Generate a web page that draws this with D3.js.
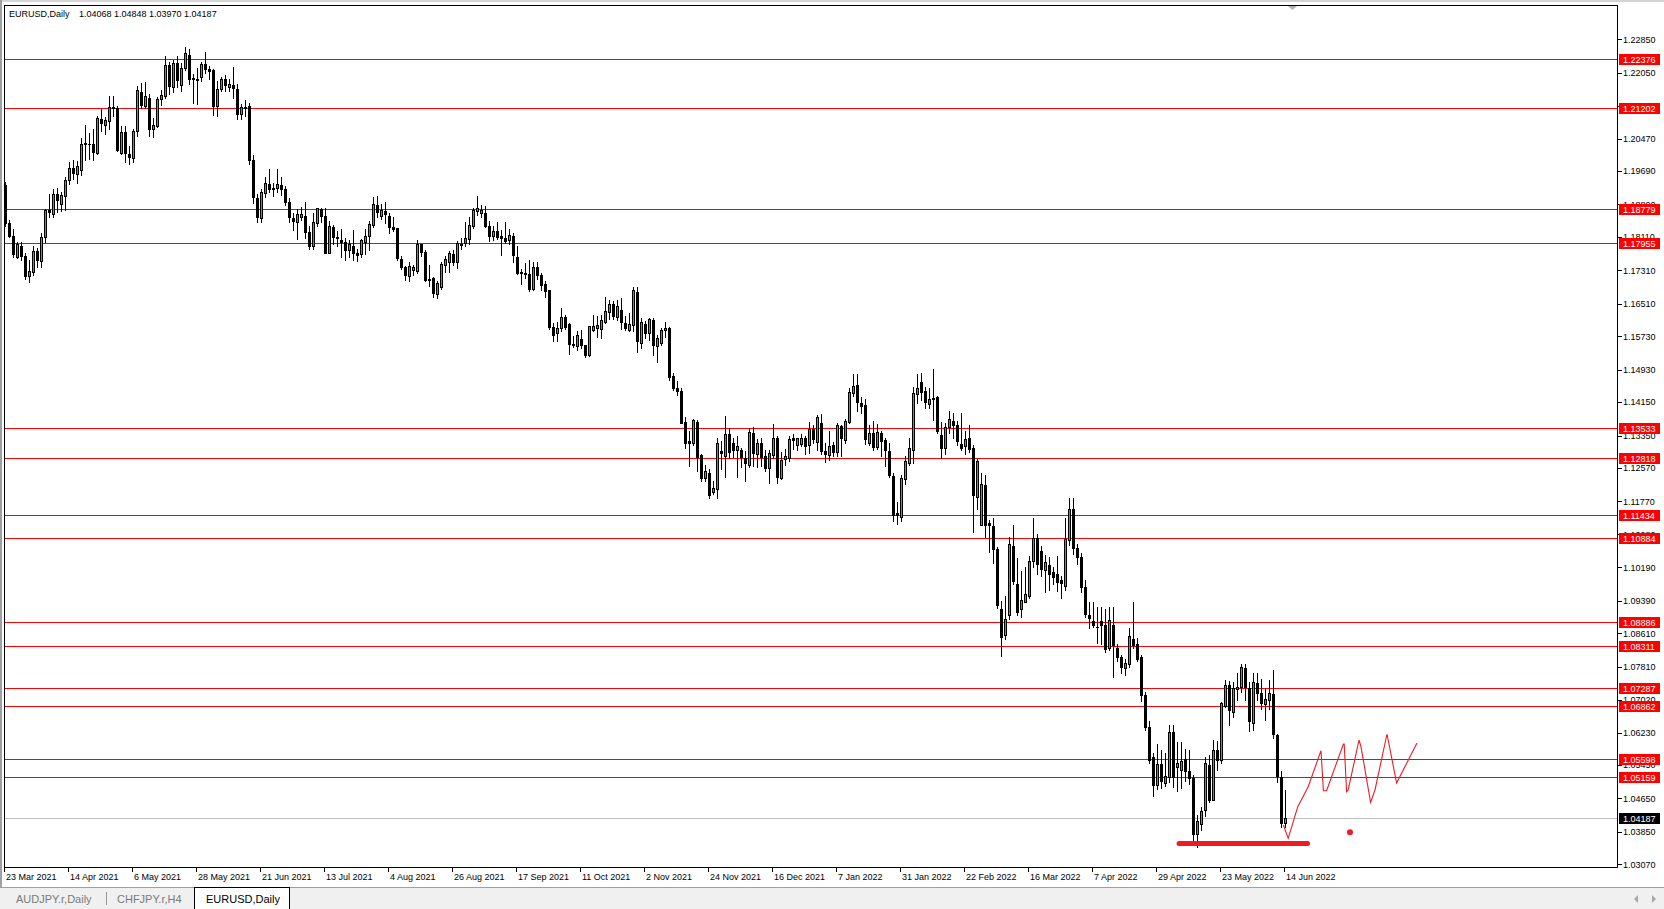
<!DOCTYPE html>
<html><head><meta charset="utf-8">
<script src="https://cdn.jsdelivr.net/npm/d3@7"></script>
<style>
html,body{margin:0;padding:0;background:#fff;overflow:hidden;}
svg{display:block;}
text{font-family:"Liberation Sans",Arial,sans-serif;}
</style></head><body>
<svg id="c" width="1664" height="909"></svg>
<script>
// ---------- data ----------
const symbolTitle = "EURUSD,Daily";
const headerValues = "1.04068 1.04848 1.03970 1.04187";
const dateLabels = ["23 Mar 2021","14 Apr 2021","6 May 2021","28 May 2021","21 Jun 2021","13 Jul 2021","4 Aug 2021","26 Aug 2021","17 Sep 2021","11 Oct 2021","2 Nov 2021","24 Nov 2021","16 Dec 2021","7 Jan 2022","31 Jan 2022","22 Feb 2022","16 Mar 2022","7 Apr 2022","29 Apr 2022","23 May 2022","14 Jun 2022"];
const barsPerLabel = 16;
const priceTicks = [1.22850,1.22050,1.21260,1.20470,1.19690,1.18890,1.18110,1.17310,1.16510,1.15730,1.14930,1.14150,1.13350,1.12570,1.11770,1.10980,1.10190,1.09390,1.08610,1.07810,1.07020,1.06230,1.05450,1.04650,1.03850,1.03070];
const levels = [1.22376,1.21202,1.18779,1.17955,1.13533,1.12818,1.11434,1.10884,1.08886,1.08311,1.07287,1.06862,1.05598,1.05159];
const bidPrice = 1.04187;
const tabs = ["AUDJPY.r,Daily","CHFJPY.r,H4","EURUSD,Daily"];

const open = [1.1935,1.1845,1.1813,1.1763,1.1790,1.1765,1.1718,1.1728,1.1778,1.1754,1.1811,1.1875,1.1866,1.1913,1.1889,1.1910,1.1947,1.1977,1.1963,1.1971,1.2035,1.2035,1.2033,1.2013,1.2093,1.2080,1.2088,1.2123,1.2120,1.2013,1.2062,1.2010,1.2001,1.2064,1.2159,1.2126,1.2145,1.2070,1.2078,1.2141,1.2149,1.2223,1.2170,1.2227,1.2175,1.2215,1.2247,1.2193,1.2190,1.2195,1.2225,1.2213,1.2211,1.2125,
1.2165,1.2189,1.2170,1.2175,1.2165,1.2105,1.2122,1.2125,1.1996,1.1905,1.1856,1.1916,1.1937,1.1925,1.1928,1.1935,1.1925,1.1894,1.1856,1.1848,1.1860,1.1862,1.1822,1.1789,1.1845,1.1878,1.1862,1.1773,1.1835,1.1811,1.1805,1.1799,1.1780,1.1790,1.1772,1.1770,1.1800,1.1813,1.1840,1.1888,1.1862,1.1873,1.1862,1.1835,1.1832,1.1758,1.1738,1.1718,1.1732,1.1729,1.1795,1.1776,1.1711,1.1712,
1.1674,1.1690,1.1744,1.1752,1.1770,1.1750,1.1795,1.1796,1.1806,1.1838,1.1874,1.1868,1.1868,1.1838,1.1813,1.1825,1.1813,1.1808,1.1803,1.1814,1.1762,1.1727,1.1725,1.1722,1.1686,1.1738,1.1720,1.1698,1.1683,1.1596,1.1580,1.1592,1.1620,1.1602,1.1554,1.1550,1.1566,1.1552,1.1528,1.1588,1.1592,1.1590,1.1608,1.1630,1.1650,1.1620,1.1635,1.1605,1.1588,1.1600,1.1680,1.1557,1.1603,1.1580,
1.1612,1.1550,1.1556,1.1587,1.1594,1.1478,1.1448,1.1442,1.1368,1.1322,1.1318,1.1368,1.1288,1.1232,1.1245,1.1200,1.1206,1.1298,1.1286,1.1338,1.1318,1.1300,1.1300,1.1280,1.1264,1.1342,1.1290,1.1316,1.1286,1.1258,1.1288,1.1328,1.1234,1.1278,1.1281,1.1330,1.1312,1.1314,1.1330,1.1312,1.1350,1.1320,1.1365,1.1298,1.1289,1.1312,1.1296,1.1358,1.1325,1.1368,1.1438,1.1455,1.1412,
1.1408,1.1318,1.1340,1.1308,1.1340,1.1324,1.1298,1.1238,1.1149,1.1140,1.1230,1.1270,1.1300,1.1434,1.1464,1.1442,1.1411,1.1426,1.1427,1.1336,1.1305,1.1356,1.1370,1.1360,1.1314,1.1310,1.1328,1.1306,1.1188,1.1120,1.1216,1.1126,1.1118,1.1062,1.0920,1.0856,1.0904,1.1070,1.0978,1.0920,1.0936,1.0950,1.1034,1.1090,1.1058,1.1012,1.1024,1.1008,1.1004,1.0988,1.0974,1.1084,1.1158,1.1066,
1.1044,1.0971,1.0905,1.0890,1.0877,1.0890,1.0880,1.0825,1.0880,1.0826,1.0805,1.0778,1.0787,1.0847,1.0835,1.0803,1.0713,1.0637,1.0565,1.0497,1.0547,1.0502,1.0517,1.0624,1.0540,1.0533,1.0560,1.0530,1.0514,1.0380,1.0404,1.0436,1.0545,1.0460,1.0582,1.0558,1.0686,1.0736,1.0672,1.0727,1.0731,1.0777,1.0730,1.0645,1.0742,1.0717,1.0692,1.0700,1.0716,1.0617,1.0517,1.04068];
const high = [1.1942,1.1852,1.1830,1.1800,1.1800,1.1772,1.1755,1.1790,1.1785,1.1820,1.1877,1.1914,1.1927,1.1928,1.1920,1.1955,1.1990,1.1995,1.1994,1.2048,1.2079,1.2060,1.2070,1.2101,1.2117,1.2098,1.2150,1.2150,1.2125,1.2077,1.2077,1.2030,1.2071,1.2173,1.2181,1.2183,1.2154,1.2097,1.2147,1.2163,1.2245,1.2230,1.2235,1.2244,1.2227,1.2266,1.2262,1.2203,1.2215,1.2230,1.2254,1.2220,1.2213,1.2185,
1.2195,1.2200,1.2190,1.2218,1.2177,1.2130,1.2140,1.2132,1.2008,1.1915,1.1925,1.1955,1.1974,1.1940,1.1975,1.1955,1.1933,1.1905,1.1868,1.1877,1.1882,1.1895,1.1838,1.1868,1.1880,1.1880,1.1880,1.1849,1.1840,1.1826,1.1829,1.1808,1.1804,1.1828,1.1782,1.1806,1.1830,1.1850,1.1908,1.1909,1.1890,1.1895,1.1868,1.1860,1.1832,1.1765,1.1742,1.1750,1.1745,1.1805,1.1795,1.1780,1.1745,1.1715,
1.1705,1.1750,1.1765,1.1777,1.1780,1.1802,1.1808,1.1846,1.1858,1.1880,1.1909,1.1888,1.1886,1.1850,1.1838,1.1848,1.1828,1.1846,1.1830,1.1820,1.1790,1.1735,1.1748,1.1755,1.1750,1.1752,1.1724,1.1705,1.1685,1.1605,1.1607,1.1640,1.1625,1.1605,1.1573,1.1585,1.1588,1.1553,1.1598,1.1625,1.1622,1.1625,1.1668,1.1660,1.1658,1.1660,1.1664,1.1622,1.1628,1.1692,1.1690,1.1616,1.1610,1.1617,
1.1616,1.1575,1.1592,1.1608,1.1596,1.1485,1.1465,1.1448,1.1380,1.1345,1.1374,1.1372,1.1290,1.1265,1.1254,1.1226,1.1328,1.1323,1.1383,1.1353,1.1330,1.1335,1.1305,1.1297,1.1352,1.1355,1.1326,1.1328,1.1300,1.1300,1.1362,1.1335,1.1296,1.1302,1.1334,1.1338,1.1330,1.1338,1.1335,1.1368,1.1360,1.1385,1.1386,1.1318,1.1347,1.1320,1.1364,1.1360,1.1375,1.1448,1.1483,1.1482,1.1428,
1.1422,1.1360,1.1370,1.1362,1.1345,1.1330,1.1318,1.1245,1.1175,1.1240,1.1285,1.1330,1.1451,1.1483,1.1484,1.1452,1.1450,1.1494,1.1430,1.1367,1.1365,1.1395,1.1390,1.1370,1.1390,1.1345,1.1360,1.1312,1.1278,1.1244,1.1240,1.1132,1.1137,1.1068,1.0939,1.0950,1.1092,1.1120,1.1042,1.1010,1.1020,1.1045,1.1137,1.1100,1.1070,1.1048,1.1044,1.1020,1.1045,1.0998,1.1137,1.1185,1.1185,1.1076,
1.1054,1.0988,1.0936,1.0937,1.0925,1.0923,1.0920,1.0925,1.0925,1.0835,1.0810,1.0800,1.0873,1.0936,1.0850,1.0810,1.0720,1.0650,1.0575,1.0595,1.0580,1.0575,1.0642,1.0641,1.0600,1.0600,1.0583,1.0580,1.0520,1.0425,1.0445,1.0564,1.0570,1.0606,1.0602,1.0697,1.0748,1.0746,1.0743,1.0765,1.0787,1.0787,1.0745,1.0766,1.0765,1.0752,1.0727,1.0748,1.0774,1.0620,1.0530,1.04848];
const low = [1.1838,1.1810,1.1762,1.1760,1.1755,1.1710,1.1704,1.1720,1.1740,1.1738,1.1800,1.1858,1.1860,1.1870,1.1873,1.1875,1.1937,1.1950,1.1940,1.1960,1.1995,1.1997,1.1995,1.2010,1.2065,1.2058,1.2070,1.2100,1.2017,1.2010,1.1990,1.1986,1.1990,1.2052,1.2120,1.2120,1.2052,1.2050,1.2075,1.2128,1.2145,1.2155,1.2158,1.2170,1.2162,1.2212,1.2178,1.2133,1.2131,1.2185,1.2205,1.2190,1.2104,1.2100,
1.2160,1.2160,1.2160,1.2144,1.2093,1.2093,1.2100,1.1985,1.1892,1.1846,1.1848,1.1907,1.1920,1.1910,1.1920,1.1912,1.1887,1.1846,1.1828,1.1807,1.1852,1.1808,1.1782,1.1782,1.1837,1.1846,1.1772,1.1772,1.1795,1.1790,1.1762,1.1755,1.1763,1.1757,1.1753,1.1763,1.1770,1.1780,1.1836,1.1860,1.1855,1.1845,1.1820,1.1825,1.1755,1.1734,1.1707,1.1705,1.1720,1.1725,1.1765,1.1705,1.1694,1.1666,
1.1664,1.1686,1.1728,1.1726,1.1745,1.1737,1.1782,1.1790,1.1795,1.1833,1.1864,1.1858,1.1835,1.1802,1.1805,1.1806,1.1768,1.1796,1.1795,1.1750,1.1722,1.1698,1.1712,1.1682,1.1683,1.1710,1.1685,1.1668,1.1590,1.1562,1.1562,1.1586,1.1590,1.1530,1.1548,1.1540,1.1545,1.1524,1.1525,1.1585,1.1571,1.1570,1.1605,1.1615,1.1615,1.1612,1.1590,1.1588,1.1585,1.1585,1.1535,1.1545,1.1570,1.1563,
1.1528,1.1512,1.1552,1.1572,1.1468,1.1444,1.1432,1.1365,1.1305,1.1262,1.1313,1.1250,1.1227,1.1226,1.1186,1.1195,1.1186,1.1255,1.1235,1.1281,1.1283,1.1236,1.1260,1.1227,1.1260,1.1262,1.1260,1.1262,1.1250,1.1222,1.1282,1.1221,1.1230,1.1264,1.1274,1.1302,1.1300,1.1310,1.1290,1.1292,1.1318,1.1300,1.1290,1.1272,1.1276,1.1285,1.1286,1.1285,1.1318,1.1365,1.1430,1.1395,1.1390,
1.1315,1.1312,1.1300,1.1302,1.1287,1.1263,1.1235,1.1130,1.1122,1.1130,1.1218,1.1265,1.1268,1.1412,1.1420,1.1400,1.1400,1.1372,1.1340,1.1280,1.1290,1.1340,1.1330,1.1312,1.1300,1.1290,1.1295,1.1104,1.1160,1.1120,1.1092,1.1056,1.1030,1.0922,1.0806,1.0848,1.0895,1.0980,1.0905,1.0900,1.0936,1.0945,1.1020,1.1003,1.0998,1.0960,1.0964,1.0980,1.0963,1.0945,1.0964,1.1072,1.1050,1.1028,
1.0961,1.0900,1.0873,1.0877,1.0837,1.0835,1.0815,1.0820,1.0757,1.0795,1.0765,1.0760,1.0780,1.0825,1.0795,1.0698,1.0630,1.0550,1.0470,1.0488,1.0490,1.0494,1.0505,1.0493,1.0483,1.0490,1.0506,1.0500,1.0354,1.0348,1.0389,1.0422,1.0457,1.0460,1.0532,1.0550,1.0685,1.0642,1.0661,1.0700,1.0719,1.0700,1.0627,1.0628,1.0700,1.0680,1.0653,1.0680,1.0610,1.0505,1.0397,1.03970];
const close = [1.1845,1.1813,1.1770,1.1794,1.1765,1.1718,1.1730,1.1778,1.1756,1.1811,1.1875,1.1870,1.1915,1.1900,1.1911,1.1948,1.1977,1.1965,1.1981,1.2035,1.2036,1.2033,1.2014,1.2097,1.2085,1.2091,1.2123,1.2120,1.2019,1.2062,1.2012,1.2003,1.2064,1.2163,1.2127,1.2149,1.2071,1.2080,1.2143,1.2151,1.2223,1.2173,1.2227,1.2187,1.2215,1.2251,1.2191,1.2190,1.2188,1.2225,1.2213,1.2210,1.2125,1.2165,
1.2189,1.2175,1.2178,1.2168,1.2105,1.2123,1.2120,1.1996,1.1906,1.1860,1.1920,1.1940,1.1926,1.1929,1.1938,1.1925,1.1894,1.1858,1.1849,1.1866,1.1866,1.1822,1.1790,1.1848,1.1880,1.1862,1.1772,1.1837,1.1812,1.1808,1.1800,1.1780,1.1794,1.1772,1.1767,1.1804,1.1813,1.1842,1.1889,1.1872,1.1875,1.1865,1.1835,1.1830,1.1760,1.1738,1.1719,1.1741,1.1738,1.1795,1.1776,1.1708,1.1707,1.1676,
1.1700,1.1746,1.1758,1.1773,1.1752,1.1796,1.1793,1.1808,1.1840,1.1876,1.1880,1.1876,1.1838,1.1814,1.1826,1.1811,1.1808,1.1802,1.1815,1.1768,1.1725,1.1725,1.1722,1.1686,1.1738,1.1720,1.1695,1.1682,1.1596,1.1576,1.1594,1.1620,1.1596,1.1554,1.1553,1.1576,1.1552,1.1528,1.1597,1.1598,1.1600,1.1612,1.1634,1.1650,1.1622,1.1645,1.1608,1.1592,1.1602,1.1684,1.1562,1.1608,1.1580,1.1614,
1.1552,1.1568,1.1588,1.1594,1.1476,1.1448,1.1442,1.1366,1.1318,1.1318,1.1372,1.1284,1.1232,1.1250,1.1192,1.1209,1.1316,1.1292,1.1338,1.1296,1.1300,1.1310,1.1284,1.1268,1.1344,1.1292,1.1318,1.1284,1.1258,1.1294,1.1330,1.1236,1.1276,1.1287,1.1326,1.1324,1.1330,1.1330,1.1310,1.1350,1.1327,1.1380,1.1298,1.1290,1.1310,1.1296,1.1360,1.1330,1.1370,1.1440,1.1454,1.1415,1.1405,
1.1326,1.1342,1.1308,1.1344,1.1322,1.1300,1.1240,1.1144,1.1144,1.1232,1.1274,1.1304,1.1438,1.1450,1.1440,1.1416,1.1422,1.1422,1.1347,1.1306,1.1356,1.1374,1.1360,1.1323,1.1306,1.1326,1.1302,1.1192,1.1274,1.1218,1.1120,1.1120,1.1064,1.0928,1.0852,1.0896,1.1076,1.0986,1.0912,1.0940,1.0954,1.1034,1.1090,1.1026,1.1014,1.1032,1.1004,1.0996,1.0984,1.0982,1.1086,1.1158,1.1066,1.1044,
1.0971,1.0907,1.0897,1.0881,1.0875,1.0880,1.0822,1.0893,1.0833,1.0805,1.0781,1.0790,1.0854,1.0833,1.0800,1.0713,1.0637,1.0558,1.0497,1.0547,1.0507,1.0518,1.0624,1.0517,1.0550,1.0555,1.0530,1.0514,1.0380,1.0410,1.0434,1.0550,1.0460,1.0582,1.0558,1.0693,1.0736,1.0678,1.0730,1.0732,1.0780,1.0733,1.0651,1.0745,1.0717,1.0694,1.0704,1.0718,1.0620,1.0518,1.0405,1.04187];

// hand-drawn annotation (bar index, price)
const zigzag = [[319.6,1.04012],[320.8,1.03693],[323.2,1.04451],[325.8,1.04931],[329.0,1.05794],[329.6,1.04835],[330.4,1.04835],[334.6,1.05954],[334.8,1.05954],[335.4,1.04811],[335.8,1.04852],[338.5,1.06050],[339.0,1.05889],[341.4,1.04556],[342.5,1.04852],[345.5,1.06194],[347.9,1.05019],[353.0,1.05978]];
const supportSegment = {from:292.9, to:326.25, price:1.0357};
const dotMark = {bar:336.25, price:1.03837};

// ---------- drawing ----------
const svg = d3.select("#c");
const W = 1664, H = 909;
const plotL = 4, plotR = 1617, plotT = 5, plotB = 867;

const x = d3.scaleLinear().domain([0, 320]).range([5, 1285]);
const y = d3.scaleLinear().domain([1.0307, 1.2285]).range([864.3, 39.3]);

svg.append("rect").attr("width", W).attr("height", H).attr("fill", "#fff");
// window edges
svg.append("rect").attr("x",0).attr("y",0).attr("width",W).attr("height",2).attr("fill","#d4d4d4");
svg.append("rect").attr("x",0).attr("y",0).attr("width",2).attr("height",888).attr("fill","#a0a0a0");

const root = svg.append("g").attr("shape-rendering","crispEdges");

// horizontal levels
root.selectAll("line.lvl").data(levels).join("line")
  .attr("x1", plotL).attr("x2", plotR)
  .attr("y1", d => Math.round(y(d)) + 0.5).attr("y2", d => Math.round(y(d)) + 0.5)
  .attr("stroke", "#ff0000").attr("stroke-width", 1);

// bid line
root.append("line").attr("x1", plotL).attr("x2", plotR)
  .attr("y1", Math.round(y(bidPrice)) + 0.5).attr("y2", Math.round(y(bidPrice)) + 0.5)
  .attr("stroke", "#c0c0c0");

// candles
const idx = d3.range(open.length);
const cg = root.append("g");
cg.selectAll("rect.wick").data(idx).join("rect")
  .attr("x", i => Math.round(x(i)))
  .attr("y", i => Math.round(y(high[i])))
  .attr("width", 1)
  .attr("height", i => Math.max(1, Math.round(y(low[i])) - Math.round(y(high[i])) + 1))
  .attr("fill", "#000");
cg.selectAll("rect.body").data(idx).join("rect")
  .attr("x", i => Math.round(x(i)) - 1)
  .attr("y", i => Math.round(y(Math.max(open[i], close[i]))))
  .attr("width", 3)
  .attr("height", i => Math.max(1, Math.round(y(Math.min(open[i], close[i]))) - Math.round(y(Math.max(open[i], close[i]))) + 1))
  .attr("fill", "#000");
cg.selectAll("rect.bull").data(idx.filter(i => close[i] > open[i])).join("rect")
  .attr("x", i => Math.round(x(i)))
  .attr("y", i => Math.round(y(close[i])) + 1)
  .attr("width", 1)
  .attr("height", i => Math.max(0, Math.round(y(open[i])) - Math.round(y(close[i])) - 1))
  .attr("fill", "#3cb43c");

// frame
root.append("rect").attr("x", plotL + 0.5).attr("y", plotT + 0.5)
  .attr("width", plotR - plotL).attr("height", plotB - plotT)
  .attr("fill", "none").attr("stroke", "#000");

// chart shift marker
svg.append("path").attr("d", "M1288,6 L1297,6 L1292.5,10 Z").attr("fill", "#b0b0b0");

// price axis ticks
const yt = svg.append("g");
yt.selectAll("line").data(priceTicks).join("line")
  .attr("x1", plotR + 1).attr("x2", plotR + 5)
  .attr("y1", d => Math.round(y(d)) + 0.5).attr("y2", d => Math.round(y(d)) + 0.5)
  .attr("stroke", "#000").attr("shape-rendering","crispEdges");
yt.selectAll("text").data(priceTicks).join("text")
  .attr("x", 1623).attr("y", d => y(d) + 3.3)
  .attr("font-size", 9).attr("fill", "#000")
  .text(d => d.toFixed(5));

// level price boxes
const lb = svg.append("g");
lb.selectAll("rect").data(levels).join("rect")
  .attr("x", 1619).attr("y", d => Math.round(y(d)) - 5)
  .attr("width", 41).attr("height", 11).attr("fill", "#ff0000").attr("shape-rendering","crispEdges");
lb.selectAll("text").data(levels).join("text")
  .attr("x", 1623).attr("y", d => Math.round(y(d)) + 3.8)
  .attr("font-size", 9).attr("fill", "#fff")
  .text(d => d.toFixed(5));
// bid box
svg.append("rect").attr("x", 1619).attr("y", Math.round(y(bidPrice)) - 5)
  .attr("width", 41).attr("height", 11).attr("fill", "#000");
svg.append("text").attr("x", 1623).attr("y", Math.round(y(bidPrice)) + 3.8)
  .attr("font-size", 9).attr("fill", "#fff").text(bidPrice.toFixed(5));

// date axis
const dg = svg.append("g");
dg.selectAll("line").data(dateLabels).join("line")
  .attr("x1", (d, k) => Math.round(x(k * barsPerLabel)) - 0.5)
  .attr("x2", (d, k) => Math.round(x(k * barsPerLabel)) - 0.5)
  .attr("y1", plotB + 1).attr("y2", plotB + 5)
  .attr("stroke", "#000").attr("shape-rendering","crispEdges");
dg.selectAll("text").data(dateLabels).join("text")
  .attr("x", (d, k) => Math.round(x(k * barsPerLabel)) + 1)
  .attr("y", 880)
  .attr("font-size", 9).attr("fill", "#000")
  .text(d => d);

// header
svg.append("text").attr("x", 9).attr("y", 17).attr("font-size", 9).attr("fill", "#000").text(symbolTitle);
svg.append("text").attr("x", 79).attr("y", 17).attr("font-size", 9).attr("fill", "#000").text(headerValues);

// annotations (hand-drawn)
const line = d3.line().x(d => x(d[0])).y(d => y(d[1]));
svg.append("path").datum(zigzag).attr("d", line)
  .attr("fill", "none").attr("stroke", "#ed1c24").attr("stroke-width", 1.1);
svg.append("rect")
  .attr("x", x(supportSegment.from)).attr("y", y(supportSegment.price) - 2.5)
  .attr("width", x(supportSegment.to) - x(supportSegment.from)).attr("height", 5)
  .attr("rx", 2.5).attr("fill", "#ed1c24");
svg.append("circle").attr("cx", x(dotMark.bar)).attr("cy", y(dotMark.price)).attr("r", 3).attr("fill", "#ed1c24");

// tab bar
svg.append("rect").attr("x", 0).attr("y", 888).attr("width", W).attr("height", 21).attr("fill", "#f0f0f0");
svg.append("rect").attr("x", 0).attr("y", 887).attr("width", W).attr("height", 1).attr("fill", "#a0a0a0");
svg.append("rect").attr("x", 194.5).attr("y", 887.5).attr("width", 95).attr("height", 22).attr("fill", "#fff").attr("stroke", "#000").attr("shape-rendering","crispEdges");
const tabX = [16, 117, 206];
svg.selectAll("text.tab").data(tabs).join("text")
  .attr("x", (d, k) => tabX[k]).attr("y", 903)
  .attr("font-size", 11).attr("fill", (d, k) => k === 2 ? "#000" : "#7a7a7a")
  .text(d => d);
svg.append("rect").attr("x", 106).attr("y", 892).attr("width", 1).attr("height", 13).attr("fill", "#9a9a9a");
// scroll arrows
svg.append("path").attr("d", "M1638,895 L1634,899 L1638,903 Z").attr("fill", "#a8a8a8");
svg.append("path").attr("d", "M1652,895 L1656,899 L1652,903 Z").attr("fill", "#a8a8a8");
</script>
</body></html>
